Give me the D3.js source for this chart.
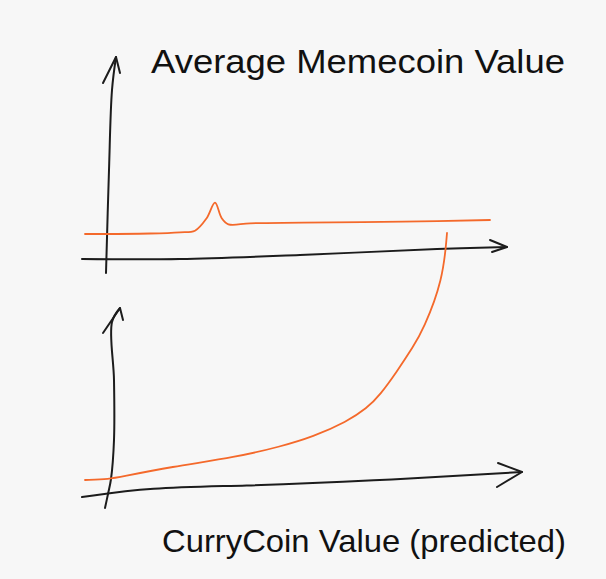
<!DOCTYPE html>
<html>
<head>
<meta charset="utf-8">
<script src="https://cdn.jsdelivr.net/npm/d3@7"></script>
<style>
  html, body { margin: 0; padding: 0; background: #f7f7f7; }
  svg { display: block; }
</style>
</head>
<body>
<div id="chart"></div>
<script>
// ---- Data (sketch units: x 0..100 along each panel, y 0..100 up each panel) ----
const titleText = "Average Memecoin Value";
const bottomLabel = "CurryCoin Value (predicted)";

// Top panel: average memecoin value (flat with a small spike)
const memecoinX = [-5.25, 11, 18.5, 22.25, 25.2, 27.25, 28.9, 30.6, 36, 49.25, 74.25, 96];
const memecoinY = [12, 12.25, 12.85, 13.65, 20, 27.65, 20, 16.85, 17.35, 17.65, 18.15, 19];

// Bottom panel: CurryCoin predicted (exponential take-off, runs off the top)
const curryX = [-5.25, 1, 3.5, 16, 32.75, 43.5, 51.8, 60.2, 65.2, 68.5, 72.7, 76.8, 79.3, 84.25, 85.25];
const curryY = [7, 7.5, 8.5, 13.5, 18.5, 23.65, 28.65, 36.15, 42.85, 49.5, 61.15, 73.65, 82, 107, 130.5];

// Hand-drawn axes (same sketch units)
const topYAxis = [[0, -7.5], [0.75, 44], [1.5, 84], [2.5, 100.5]];
const topYArrow = [[-0.75, 87.5], [2.5, 100.5], [3.5, 92.5]];
const topXAxis = [[-6, -0.5], [18.5, -0.5], [48.5, 1.5], [82.75, 4.5], [100.25, 5.5]];
const topXArrow = [[96, 9], [100.25, 5.5], [96.5, 3]];

const botYAxis = [[-0.25, -7], [0.5, 0], [1.25, 7.5], [2, 27], [2, 57], [1.5, 86], [3.5, 93]];
const botYArrow = [[-0.75, 80.5], [3.5, 93], [4.25, 87]];
const botXAxis = [[-6, -1.5], [11, 3.25], [33.5, 4], [66, 6.5], [104, 11]];
const botXArrow = [[98, 15.5], [104, 11], [97.75, 3.5]];

// ---- Layout ----
const W = 606, H = 579;
const svg = d3.select("#chart").append("svg")
  .attr("width", W).attr("height", H)
  .style("background", "#f7f7f7");

const x = d3.scaleLinear().domain([0, 100]).range([106, 506]);
const yTop = d3.scaleLinear().domain([0, 100]).range([258, 58]);
const yBot = d3.scaleLinear().domain([0, 100]).range([494, 294]);

const ink = "#1c1c1c";
const orange = "#f4692b";

function sketch(ys, curve) {
  return d3.line()
    .x(d => x(d[0]))
    .y(d => ys(d[1]))
    .curve(curve || d3.curveCatmullRom.alpha(0.5));
}

function drawPath(pts, ys, color, w, curve) {
  svg.append("path")
    .attr("d", sketch(ys, curve)(pts))
    .attr("fill", "none")
    .attr("stroke", color)
    .attr("stroke-width", w)
    .attr("stroke-linecap", "round")
    .attr("stroke-linejoin", "round");
}

// Axes
drawPath(topYAxis, yTop, ink, 2);
drawPath(topYArrow, yTop, ink, 2, d3.curveLinear);
drawPath(topXAxis, yTop, ink, 2);
drawPath(topXArrow, yTop, ink, 2, d3.curveLinear);

drawPath(botYAxis, yBot, ink, 2);
drawPath(botYArrow, yBot, ink, 2, d3.curveLinear);
drawPath(botXAxis, yBot, ink, 2, d3.curveBasis);
drawPath(botXArrow, yBot, ink, 2, d3.curveLinear);

// Series
drawPath(d3.zip(memecoinX, memecoinY), yTop, orange, 1.8);
drawPath(d3.zip(curryX, curryY), yBot, orange, 1.8, d3.curveBasis);

// Text
svg.append("text")
  .attr("x", 151).attr("y", 72.5)
  .attr("font-family", "'Liberation Sans', Arial, sans-serif")
  .attr("font-size", 33)
  .attr("textLength", 414)
  .attr("lengthAdjust", "spacingAndGlyphs")
  .attr("fill", "#111")
  .text(titleText);

svg.append("text")
  .attr("x", 162).attr("y", 551.5)
  .attr("font-family", "'Liberation Sans', Arial, sans-serif")
  .attr("font-size", 31.5)
  .attr("textLength", 404)
  .attr("lengthAdjust", "spacingAndGlyphs")
  .attr("fill", "#111")
  .text(bottomLabel);
</script>
</body>
</html>
